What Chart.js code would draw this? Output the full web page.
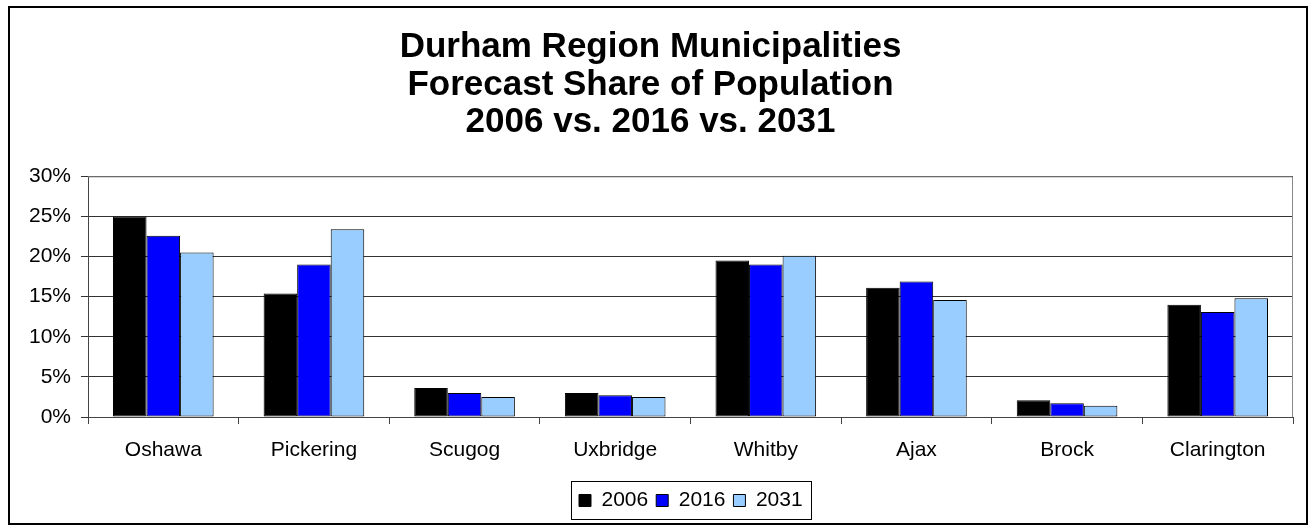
<!DOCTYPE html>
<html>
<head>
<meta charset="utf-8">
<script src="https://cdn.jsdelivr.net/npm/chart.js@4.4.1/dist/chart.umd.min.js"></script>
<style>
  html, body { margin: 0; padding: 0; background: #fff; }
  #wrap { width: 1309px; height: 525px; }
</style>
</head>
<body>
<div id="wrap"><canvas id="popChart" width="1309" height="525"></canvas></div>
<script>
const municipalities = ["Oshawa", "Pickering", "Scugog", "Uxbridge", "Whitby", "Ajax", "Brock", "Clarington"];
const share2006 = [25.0, 15.4, 3.6, 3.0, 19.5, 16.1, 2.1, 14.0];
const share2016 = [22.6, 19.0, 3.0, 2.7, 19.0, 16.9, 1.7, 13.1];
const share2031 = [20.5, 23.4, 2.5, 2.5, 20.1, 14.6, 1.4, 14.8];
const yTicks = [0, 5, 10, 15, 20, 25, 30];
const titleLines = ["Durham Region Municipalities", "Forecast Share of Population", "2006 vs. 2016 vs. 2031"];

const FONT = "Arial, 'Liberation Sans', sans-serif";

// white background, outer frame, plot border and legend box
const framePlugin = {
  id: "frame",
  afterUpdate(chart) {
    // the legend sits a bit right of centre in the original
    const legend = chart.legend;
    const boxes = legend.legendHitBoxes;
    if (!boxes || !boxes.length) return;
    const shift = 579 - boxes[0].left;
    legend.left += shift;
    legend.right += shift;
    boxes.forEach(b => { b.left += shift; });
  },
  beforeDraw(chart) {
    const ctx = chart.ctx;
    ctx.save();
    ctx.fillStyle = "#fff";
    ctx.fillRect(0, 0, chart.width, chart.height);
    ctx.restore();
  },
  beforeDatasetsDraw(chart) {
    const ctx = chart.ctx;
    const a = chart.chartArea;
    ctx.save();
    ctx.strokeStyle = "#888";
    ctx.lineWidth = 1;
    ctx.beginPath();
    ctx.moveTo(a.left, a.top + 0.5);
    ctx.lineTo(a.right - 0.5, a.top + 0.5);
    ctx.lineTo(a.right - 0.5, a.bottom);
    ctx.stroke();
    ctx.restore();
  },
  afterDraw(chart) {
    const ctx = chart.ctx;
    ctx.save();
    ctx.strokeStyle = "#000";
    ctx.lineWidth = 2;
    ctx.strokeRect(9, 7, chart.width - 11, chart.height - 8);

    const boxes = chart.legend.legendHitBoxes;
    if (boxes && boxes.length) {
      const left = Math.min(...boxes.map(b => b.left)) - 8;
      const right = Math.max(...boxes.map(b => b.left + b.width)) + 8;
      const top = Math.min(...boxes.map(b => b.top)) - 9;
      const bottom = Math.max(...boxes.map(b => b.top + b.height)) + 8;
      ctx.lineWidth = 1;
      ctx.strokeRect(Math.round(left) + 0.5, Math.round(top) + 0.5, Math.round(right - left), Math.round(bottom - top));
    }
    ctx.restore();
  }
};

new Chart(document.getElementById("popChart"), {
  type: "bar",
  data: {
    labels: municipalities,
    datasets: [
      { label: "2006", data: share2006, backgroundColor: "#000000" },
      { label: "2016", data: share2016, backgroundColor: "#0000FF" },
      { label: "2031", data: share2031, backgroundColor: "#99CCFF" }
    ]
  },
  options: {
    responsive: false,
    animation: false,
    devicePixelRatio: 1,
    layout: { padding: { left: 8, right: 16, top: 0, bottom: 4 } },
    datasets: {
      bar: {
        barPercentage: 1,
        categoryPercentage: 0.668,
        borderColor: "#000",
        borderWidth: 1,
        borderSkipped: false
      }
    },
    scales: {
      x: {
        grid: { drawOnChartArea: false, drawTicks: true, tickLength: 7, color: "#444", offset: true },
        border: { color: "#444", width: 1 },
        ticks: { color: "#000", font: { family: FONT, size: 21 }, padding: 14 },
        afterFit(scale) { scale.height = 65; }
      },
      y: {
        min: 0,
        max: 30,
        afterBuildTicks(scale) { scale.ticks = yTicks.map(v => ({ value: v })); },
        grid: { color: "#333", tickLength: 7 },
        border: { color: "#444", width: 1 },
        ticks: {
          color: "#000",
          font: { family: FONT, size: 21 },
          padding: 10,
          callback: v => v + "%"
        },
        afterFit(scale) { scale.width = 80; }
      }
    },
    plugins: {
      title: {
        display: true,
        text: titleLines,
        color: "#000",
        font: { family: FONT, size: 35, weight: "bold", lineHeight: 1.07 },
        padding: { top: 29, bottom: 35 }
      },
      legend: {
        position: "bottom",
        labels: {
          color: "#000",
          font: { family: FONT, size: 21 },
          boxWidth: 12,
          boxHeight: 12,
          padding: 8
        }
      },
      tooltip: { enabled: false }
    }
  },
  plugins: [framePlugin]
});
</script>
</body>
</html>
